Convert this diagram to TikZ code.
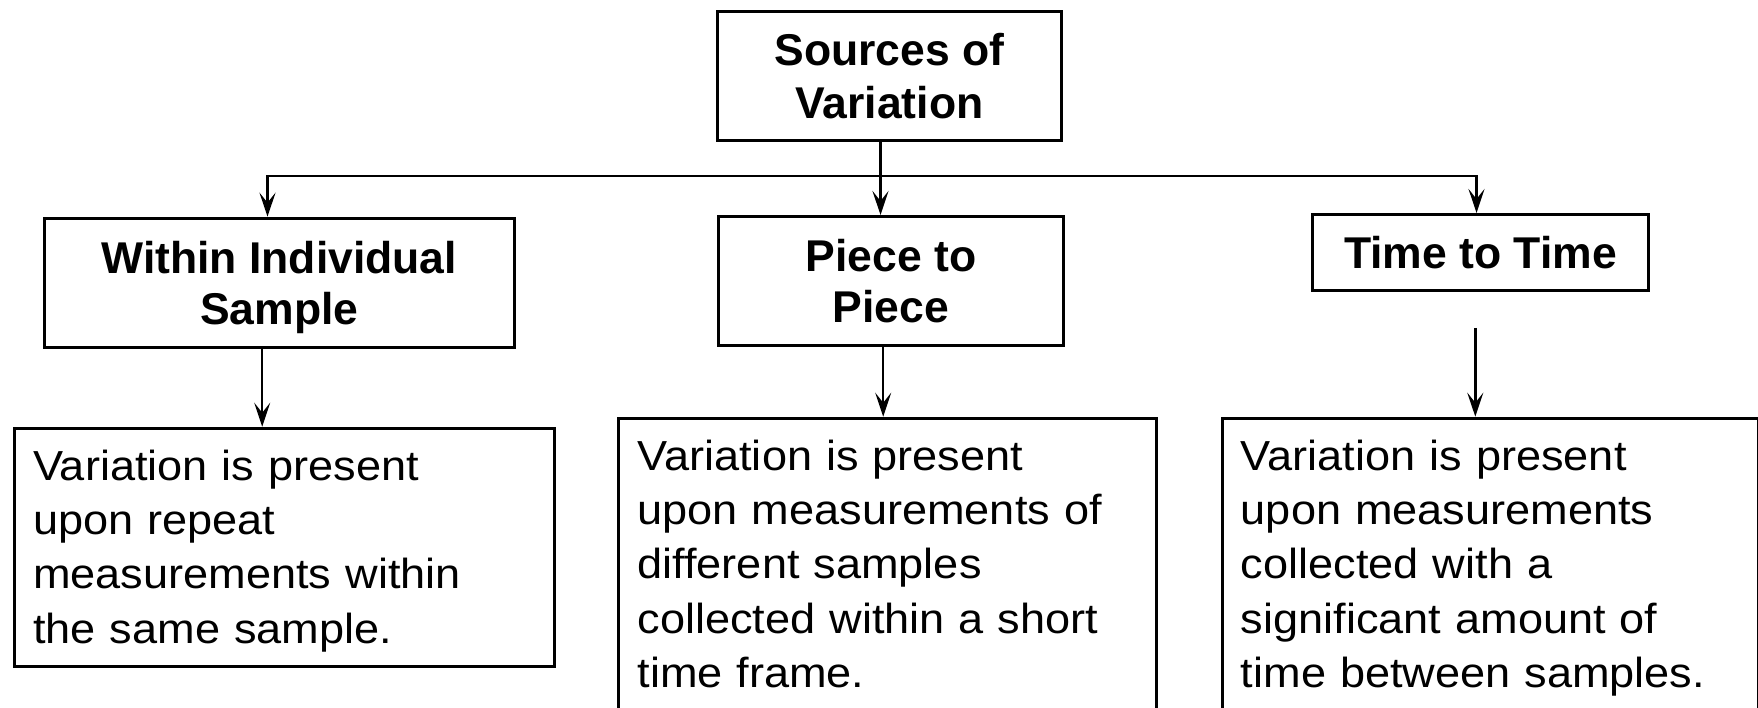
\documentclass[tikz,border=0pt]{standalone}
\usepackage{fontspec}
\setmainfont{Liberation Sans}
\newfontfamily\bodyfont{Liberation Sans}[FakeStretch=1.074]
\usetikzlibrary{arrows.meta}

\begin{document}
\begin{tikzpicture}[x=1pt,y=-1pt,
  box/.style={draw, line width=3pt, rectangle, inner sep=0pt, anchor=north west},
  head/.style={box, align=center, font=\fontsize{44.5}{51}\selectfont\bfseries},
  desc/.style={anchor=base west, inner sep=0pt, text width=520pt, align=left,
    font=\bodyfont\fontsize{42}{54.4}\selectfont},
  link/.style={line width=2.5pt, -{Stealth[length=24pt,width=16pt,inset=10pt]}}
]
\clip (0,0) rectangle (1758,708);
\fill[white] (0,0) rectangle (1758,708);

% category boxes
\node[head, font=\fontsize{44.5}{53}\selectfont\bfseries,
      minimum width=344pt, minimum height=129pt] (src) at (716,10) {Sources of\\Variation};
\node[head, text depth=0pt, minimum width=470pt, minimum height=129pt] (wis) at (42.7,216.7) {Within Individual\\Sample};
\node[head, minimum width=344.4pt, minimum height=129pt] (pp) at (717.3,215) {Piece to\\Piece};
\node[head, minimum width=336pt, minimum height=76pt] (tt) at (1311,213) {Time to Time};

% description boxes
\node[box, minimum width=540pt, minimum height=238.3pt] (bl) at (12.7,426.7) {};
\node[box, minimum width=538pt, minimum height=340pt] (bm) at (616.7,416.7) {};
\node[box, minimum width=536pt, minimum height=340pt] (br) at (1220.7,416.7) {};

\node[desc] (bltext) at (33,480) {Variation is present\\upon repeat\\measurements within\\the same sample.};
\node[desc] (bmtext) at (637.3,470) {Variation is present\\upon measurements of\\different samples\\collected within a short\\time frame.};
\node[desc] (brtext) at (1240.7,470) {Variation is present\\upon measurements\\collected with a\\significant amount of\\time between samples.};

% connectors
\coordinate (trunk) at ([xshift=-9pt]src.south);
\coordinate (jn) at (879,176);
\draw[link] (trunk) -- (trunk |- pp.north);
\draw[line width=2.5pt] (jn) -- (trunk |- jn);
\coordinate (wisin) at ([xshift=-11.7pt]wis.north);
\coordinate (ttin) at ([xshift=-4pt]tt.north);
\draw[link] (jn) -| (wisin);
\draw[link] (jn) -| (ttin);

\coordinate (wisout) at ([xshift=-17pt]wis.south);
\draw[link] (wisout) -- (wisout |- bl.north);
\coordinate (ppout) at ([xshift=-7.8pt]pp.south);
\draw[link] (ppout) -- (ppout |- bm.north);
\coordinate (ttout) at (1475.3,328);
\draw[link] (ttout) -- (ttout |- br.north);
\end{tikzpicture}
\end{document}
